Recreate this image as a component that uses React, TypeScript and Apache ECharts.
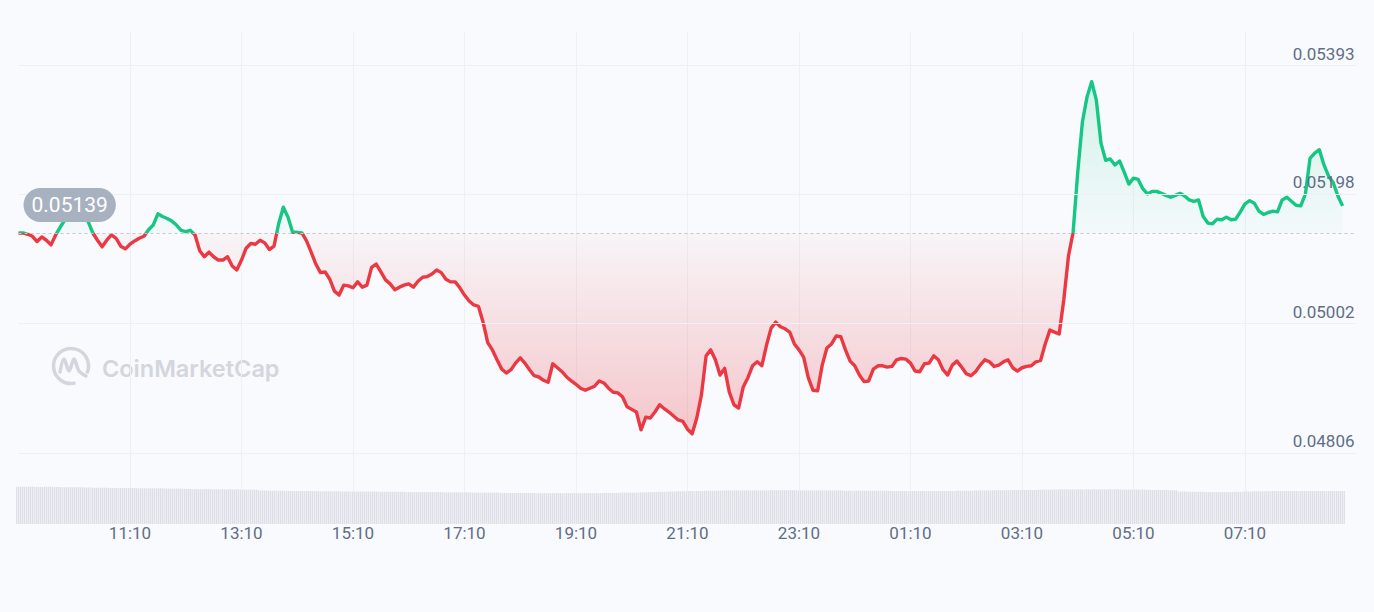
import React, { useEffect, useRef } from "react";
import * as echarts from "echarts";

// ---- data ----
const START_HOUR = 9;
const START_MINUTE = 10;
const PRICE_STEP_MIN = 5;
const prices: number[] = [
  0.05139, 0.05139, 0.05137, 0.05134, 0.05126, 0.05133, 0.05128, 0.05121, 0.05136, 0.05148,
  0.05159, 0.05166, 0.05171, 0.05169, 0.05174, 0.05156, 0.05139, 0.05128, 0.05118, 0.05128,
  0.05136, 0.05131, 0.05119, 0.05115, 0.05122, 0.05127, 0.05131, 0.05134, 0.05144, 0.05151,
  0.05168, 0.05164, 0.05161, 0.05157, 0.05151, 0.05143, 0.05141, 0.05143, 0.05136, 0.05112,
  0.05103, 0.0511, 0.05103, 0.05098, 0.05098, 0.05103, 0.05089, 0.05083, 0.05098, 0.05116,
  0.05123, 0.05122, 0.05128, 0.05124, 0.05114, 0.05119, 0.05153, 0.05178, 0.05163, 0.0514,
  0.0514, 0.05139, 0.05127, 0.0511, 0.05092, 0.05079, 0.0508, 0.05069, 0.05051, 0.05045,
  0.0506, 0.05059, 0.05056, 0.05065, 0.05057, 0.0506, 0.05087, 0.05092, 0.0508, 0.05068,
  0.05062, 0.05053, 0.05057, 0.0506, 0.05062, 0.05057, 0.05066, 0.05072, 0.05073, 0.05077,
  0.05083, 0.05079, 0.05069, 0.05065, 0.05065, 0.05056, 0.05045, 0.05036, 0.0503, 0.05028,
  0.05004, 0.04973, 0.04962, 0.04947, 0.04933, 0.04927, 0.04932, 0.04942, 0.0495, 0.04942,
  0.04932, 0.04923, 0.04921, 0.04916, 0.04913, 0.04941, 0.04935, 0.04929, 0.04921, 0.04915,
  0.0491, 0.04904, 0.04901, 0.04904, 0.04907, 0.04915, 0.04912, 0.04904, 0.04898, 0.04897,
  0.04891, 0.04876, 0.04872, 0.04868, 0.04841, 0.0486, 0.04859, 0.04868, 0.04879, 0.04873,
  0.04868, 0.04862, 0.04856, 0.04854, 0.04842, 0.04835, 0.04859, 0.04894, 0.04953, 0.04962,
  0.04947, 0.04924, 0.04934, 0.04898, 0.04879, 0.04874, 0.04906, 0.0492, 0.04938, 0.04944,
  0.04938, 0.04969, 0.04995, 0.05004, 0.04997, 0.04994, 0.04989, 0.04971, 0.04962, 0.04951,
  0.0492, 0.04901, 0.049, 0.04939, 0.04965, 0.04971, 0.04983, 0.04982, 0.04962, 0.04945,
  0.04938, 0.04924, 0.04914, 0.04915, 0.04933, 0.04938, 0.04938, 0.04936, 0.04937, 0.04947,
  0.04949, 0.04948, 0.04942, 0.0493, 0.04929, 0.04941, 0.04942, 0.04953, 0.04947, 0.04932,
  0.04924, 0.04939, 0.04945, 0.04936, 0.04926, 0.04923, 0.04929, 0.04939, 0.04947, 0.04944,
  0.04937, 0.04939, 0.04944, 0.04947, 0.04935, 0.0493, 0.04935, 0.04937, 0.04938, 0.04944,
  0.04946, 0.04971, 0.04992, 0.04989, 0.04986, 0.05038, 0.05104, 0.0514, 0.05231, 0.05307,
  0.05345, 0.05368, 0.0534, 0.05275, 0.05249, 0.05251, 0.05242, 0.05248, 0.05231, 0.05213,
  0.05222, 0.0522, 0.05206, 0.05198, 0.05202, 0.05202, 0.05199, 0.05196, 0.05193, 0.05196,
  0.05199, 0.05195, 0.05189, 0.05187, 0.05189, 0.05164, 0.05154, 0.05153, 0.0516, 0.05159,
  0.05163, 0.05159, 0.0516, 0.05171, 0.05183, 0.05188, 0.05184, 0.05172, 0.05167, 0.0517,
  0.05172, 0.05171, 0.05189, 0.05193, 0.05187, 0.05181, 0.0518, 0.05198, 0.05252, 0.0526,
  0.05265, 0.05242, 0.05225, 0.05215, 0.05195, 0.0518,
];

const VOLUME_STEP_MIN = 10;
const VOLUME_OFFSET_MIN = 2.5;
const volumes: number[] = [
  69, 69, 68.5, 69, 68.5, 68, 68, 67.5,
  67, 67, 66.5, 66.5, 66.5, 66, 66, 66, 65.5, 65.5,
  65, 64.5, 64.5, 64, 64, 64, 63.5, 63.5,
  62, 61.5, 61.5, 61, 61, 61, 60.5, 60.5, 60.5, 60, 60, 60, 60, 59.5, 59.5, 59.5, 59, 59, 59, 59, 58.5, 58.5, 58.5,
  58, 58, 58, 57.5, 57.5, 57.5, 57.5, 57, 57, 57, 57, 57, 57, 57, 57.5, 57.5, 58, 58, 58.5, 59,
  59.5, 60, 60.5, 61, 61,
  61.5, 61.5, 62, 62, 62, 62, 62, 62.5, 62.5, 62.5, 62, 62, 62, 62, 62, 61.5, 61.5, 61.5, 61.5, 61.5, 61, 61,
  61, 61, 61, 61, 61, 61.5, 61.5, 62, 62, 62.5, 62.5,
  63, 63, 63, 63.5, 63.5, 64, 64, 64, 64, 64, 64, 64, 63.5, 63.5, 63.5, 63, 63, 62.5,
  60, 59.5, 59.5, 59, 59, 59, 59.5,
  60, 60.5, 60.5, 61, 61, 61, 61, 61, 61, 61, 61,
];

const yTickValues: number[] = [0.04806, 0.05002, 0.05198, 0.05393];
const baseline = prices[0];
const baselineLabel = "0.05139";
const X_TICK_STEP_MIN = 120;
const DAY_MIN = 1440;

// ---- styles ----
const GREEN = "#16c784";
const RED = "#ea3943";
const GRID_COLOR = "#edf0f4";
const LABEL_COLOR = "#616e85";
const WATERMARK = "#d3d6dc";

const pad = (n: number) => (n < 10 ? "0" + n : "" + n);
const fmtTime = (m: number) => {
  const t = (START_HOUR * 60 + START_MINUTE + Math.round(m)) % DAY_MIN;
  return pad(Math.floor(t / 60)) + ":" + pad(t % 60);
};

export default function App() {
  const ref = useRef<HTMLDivElement>(null);

  useEffect(() => {
    if (!ref.current) return;
    const chart = echarts.init(ref.current, undefined, { renderer: "svg" });

    const maxV = Math.max(...prices);
    const minV = Math.min(...prices);
    const off = (maxV - baseline) / (maxV - minV);

    const areaGradient = new echarts.graphic.LinearGradient(0, 0, 0, 1, [
      { offset: 0, color: "rgba(22,199,132,0.17)" },
      { offset: off, color: "rgba(22,199,132,0.02)" },
      { offset: off, color: "rgba(234,57,67,0.03)" },
      { offset: 1, color: "rgba(234,57,67,0.27)" },
    ]);

    const deg = Math.PI / 180;

    chart.setOption({
      animation: false,
      backgroundColor: "transparent",
      grid: [
        { left: 18.5, right: 17.5, top: 32, height: 492 },
        { left: 18.5, right: 17.5, top: 470, height: 54 },
      ],
      xAxis: [
        {
          type: "value",
          gridIndex: 0,
          min: 0,
          max: DAY_MIN,
          interval: X_TICK_STEP_MIN,
          axisLine: { show: false },
          axisTick: { show: false },
          axisLabel: {
            formatter: (v: number) => fmtTime(v),
            showMinLabel: false,
            showMaxLabel: false,
            color: LABEL_COLOR,
            fontSize: 17,
            fontFamily: "Roboto",
            margin: 0,
          },
          splitLine: {
            show: true,
            showMinLine: false,
            showMaxLine: false,
            lineStyle: { color: GRID_COLOR, width: 1 },
          },
        },
        { type: "value", gridIndex: 1, min: 0, max: DAY_MIN, show: false },
      ],
      yAxis: [
        { type: "value", gridIndex: 0, min: 0.046985, max: 0.054432, show: false, splitLine: { show: false } },
        { type: "value", gridIndex: 1, min: 0, max: 100, show: false, splitLine: { show: false } },
      ],
      visualMap: {
        type: "piecewise",
        show: false,
        seriesIndex: 1,
        dimension: 1,
        pieces: [
          { gte: 0, lte: baseline, color: RED },
          { gt: baseline, lte: 1, color: GREEN },
        ],
      },
      series: [
        {
          type: "line",
          name: "grid",
          xAxisIndex: 0,
          yAxisIndex: 0,
          data: [
            [0, baseline],
            [DAY_MIN, baseline],
          ],
          showSymbol: false,
          symbol: "none",
          lineStyle: { opacity: 0 },
          z: 1,
          silent: true,
          markLine: {
            silent: true,
            precision: 5,
            symbol: ["none", "none"],
            animation: false,
            data: [
              ...yTickValues.map((v) => ({
                yAxis: v,
                lineStyle: { color: GRID_COLOR, width: 1, type: "solid" },
                label: {
                  show: true,
                  position: "insideEndTop",
                  formatter: v.toFixed(5),
                  color: LABEL_COLOR,
                  fontSize: 17,
                  fontFamily: "Roboto",
                  distance: [2, 3],
                },
              })),
              {
                yAxis: baseline,
                lineStyle: { color: "#c3c8d0", width: 1.2, type: [3, 3] },
                label: {
                  show: true,
                  position: "insideStartTop",
                  formatter: baselineLabel,
                  backgroundColor: "#a8b1c0",
                  color: "#ffffff",
                  fontSize: 21,
                  fontFamily: "Roboto",
                  padding: [7, 8, 6, 8],
                  borderRadius: 19,
                  distance: [5, 11],
                },
              },
            ],
          },
        },
        {
          type: "line",
          name: "price",
          xAxisIndex: 0,
          yAxisIndex: 0,
          z: 3,
          data: prices.map((v, i) => [i * PRICE_STEP_MIN, v]),
          showSymbol: false,
          symbol: "none",
          lineStyle: { width: 3.4, join: "round" },
          areaStyle: { origin: baseline, color: areaGradient, opacity: 1 },
        },
        {
          type: "bar",
          name: "volume",
          xAxisIndex: 1,
          yAxisIndex: 1,
          silent: true,
          clip: false,
          barWidth: "100%",
          data: volumes.map((v, i) => [VOLUME_OFFSET_MIN + i * VOLUME_STEP_MIN, v]),
          itemStyle: {
            color: "#eceef3",
            decal: {
              symbol: "rect",
              symbolSize: 1,
              dashArrayX: [1, 1],
              dashArrayY: [8, 0],
              color: "#dcdfe6",
            },
          },
        },
      ],
      graphic: [
        {
          type: "arc",
          silent: true,
          z: 0,
          shape: { cx: 71, cy: 366, r: 17.5, startAngle: 75 * deg, endAngle: 385 * deg, clockwise: true },
          style: { stroke: WATERMARK, lineWidth: 3.5, fill: null },
        },
        {
          type: "polyline",
          silent: true,
          z: 0,
          shape: {
            points: [
              [60, 372],
              [64, 359],
              [69, 371],
              [74, 359],
              [79, 371],
              [86, 376],
            ],
            smooth: 0.35,
          },
          style: { stroke: WATERMARK, lineWidth: 3.5, fill: null, lineCap: "round" },
        },
        {
          type: "text",
          silent: true,
          z: 0,
          x: 102,
          y: 368,
          style: {
            text: "CoinMarketCap",
            fontSize: 23.5,
            fontWeight: 600,
            fontFamily: "Inter",
            fill: WATERMARK,
            verticalAlign: "middle",
          },
        },
      ],
    });

    return () => chart.dispose();
  }, []);

  return (
    <div
      ref={ref}
      style={{ position: "fixed", left: 0, top: 0, width: 1374, height: 612, background: "#f8fafd" }}
    />
  );
}
